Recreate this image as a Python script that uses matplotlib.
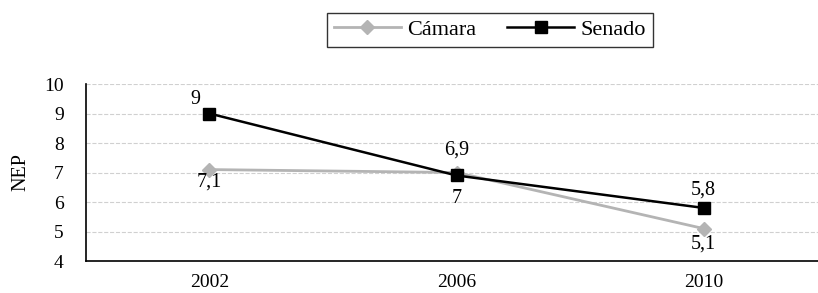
import matplotlib.pyplot as plt

# data
years = ['2002', '2006', '2010']
camara = [7.1, 7.0, 5.1]
senado = [9.0, 6.9, 5.8]
camara_labels = ['7,1', '7', '5,1']
senado_labels = ['9', '6,9', '5,8']

# label offsets in points (style only)
camara_off = [(0, -9), (0, -19), (0, -11)]
senado_off = [(-10, 10), (0, 18), (0, 13)]

plt.rcParams['font.family'] = ['Liberation Serif', 'DejaVu Serif']

fig = plt.figure(figsize=(8.18, 2.93), dpi=100)
ax = fig.add_axes([0.1051, 0.1092, 0.906, 0.604])

x = range(len(years))
ax.plot(x, camara, color='#b4b4b4', linewidth=2.0, marker='D', markersize=7,
        label='Cámara', zorder=3)
ax.plot(x, senado, color='black', linewidth=1.8, marker='s', markersize=8.5,
        label='Senado', zorder=4)

for i, (v, t) in enumerate(zip(camara, camara_labels)):
    ax.annotate(t, (i, v), xytext=camara_off[i], textcoords='offset points',
                ha='center', va='center', fontsize=14.5)
for i, (v, t) in enumerate(zip(senado, senado_labels)):
    ax.annotate(t, (i, v), xytext=senado_off[i], textcoords='offset points',
                ha='center', va='center', fontsize=14.5)

ax.set_xlim(-0.5, 2.5)
ax.set_ylim(4, 10)
ax.set_xticks(list(x))
ax.set_xticklabels(years)
ax.set_yticks(range(4, 11))
ax.tick_params(axis='both', length=0, labelsize=14)
ax.tick_params(axis='y', pad=16)
ax.tick_params(axis='x', pad=9)
ax.set_ylabel('NEP', fontsize=14.5, labelpad=10)

ax.grid(axis='y', color='#d0d0d0', linestyle='--', linewidth=0.8)
ax.set_axisbelow(True)
for s in ['top', 'right']:
    ax.spines[s].set_visible(False)
for s in ['left', 'bottom']:
    ax.spines[s].set_linewidth(1.2)

leg = fig.legend(loc='center', bbox_to_anchor=(0.599, 0.899), ncol=2,
                 fontsize=16, frameon=True, fancybox=False, handlelength=3.0,
                 columnspacing=1.4, handletextpad=0.3, borderpad=0.3,
                 borderaxespad=0)
leg.get_frame().set_edgecolor('black')
leg.get_frame().set_linewidth(1.0)

fig.savefig('out.png', dpi=100)
